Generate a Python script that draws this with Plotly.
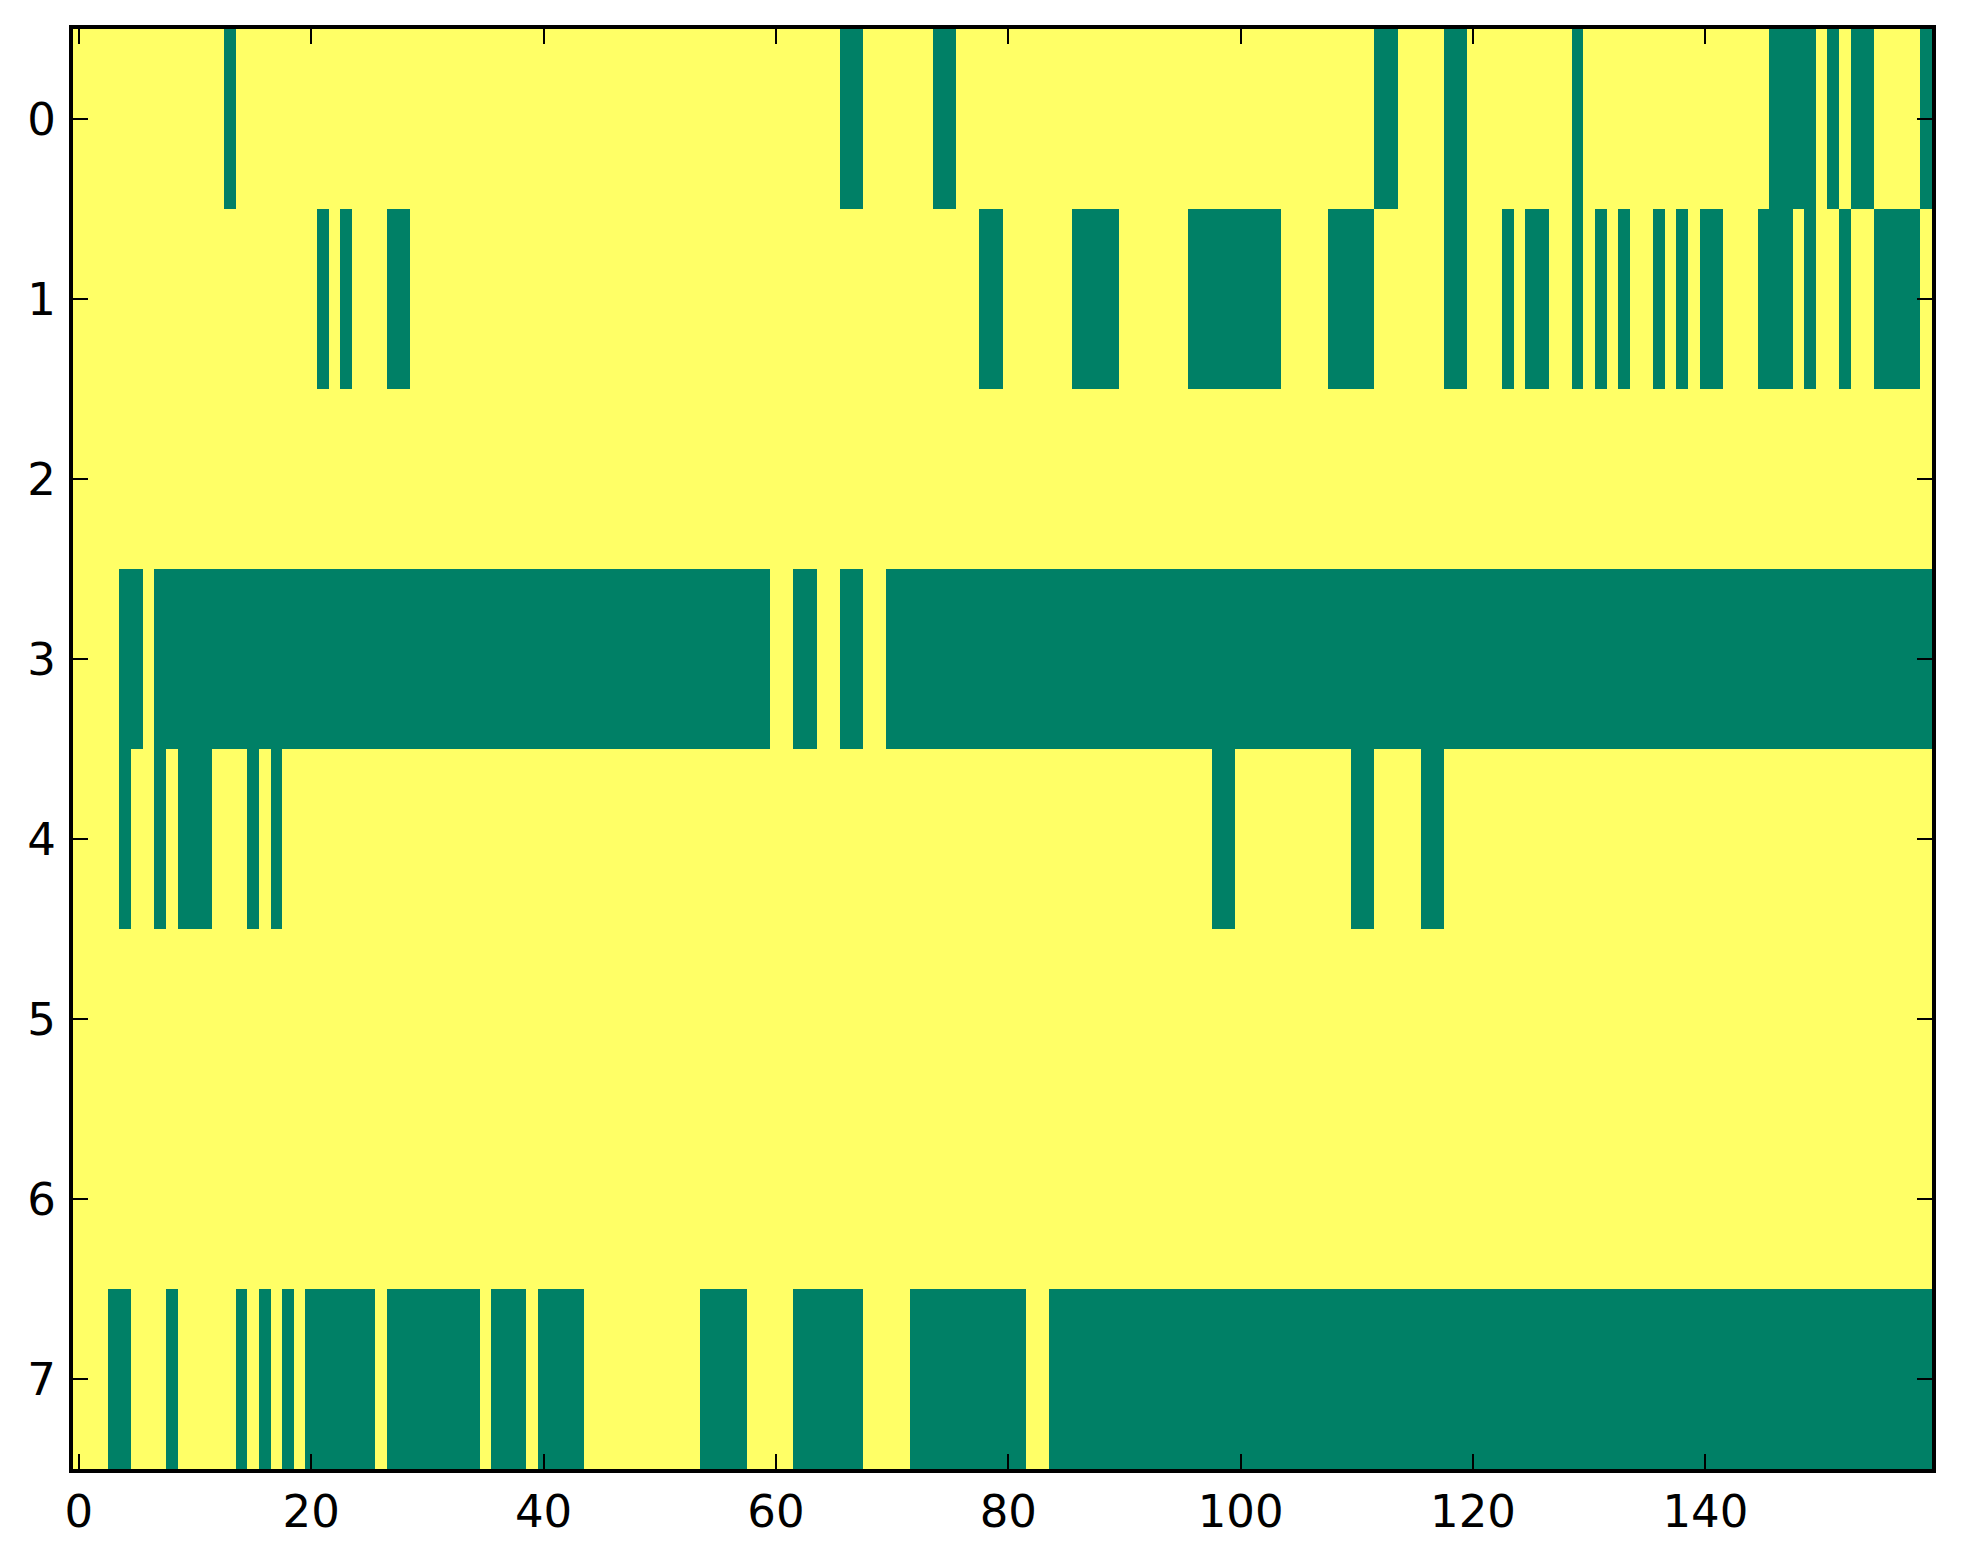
import plotly.graph_objects as go

# ---- data (green = 0, yellow = 1) ----
n_cols = 160
row_labels = [0, 1, 2, 3, 4, 5, 6, 7]
x_tick_vals = [0, 20, 40, 60, 80, 100, 120, 140]

# green runs per row as (first column, last column), inclusive
row0_green = [(13, 13), (66, 67), (74, 75), (112, 113), (118, 119), (129, 129),
              (146, 149), (151, 151), (153, 154), (159, 159)]
row1_green = [(21, 21), (23, 23), (27, 28), (78, 79), (86, 89), (96, 103),
              (108, 111), (118, 119), (123, 123), (125, 126), (129, 129),
              (131, 131), (133, 133), (136, 136), (138, 138), (140, 141),
              (145, 147), (149, 149), (152, 152), (155, 158)]
row2_green = []
row3_green = [(4, 5), (7, 59), (62, 63), (66, 67), (70, 159)]
row4_green = [(4, 4), (7, 7), (9, 11), (15, 15), (17, 17), (98, 99),
              (110, 111), (116, 117)]
row5_green = []
row6_green = []
row7_green = [(3, 4), (8, 8), (14, 14), (16, 16), (18, 18), (20, 25), (27, 34),
              (36, 38), (40, 43), (54, 57), (62, 67), (72, 81), (84, 159)]

rows_green = [row0_green, row1_green, row2_green, row3_green,
              row4_green, row5_green, row6_green, row7_green]

# build the value table (1 = yellow, 0 = green)
z = []
for runs in rows_green:
    row = [1] * n_cols
    for a, b in runs:
        for c in range(a, b + 1):
            row[c] = 0
    z.append(row)

GREEN = "#008066"
YELLOW = "#ffff66"

fig = go.Figure(
    go.Heatmap(
        z=z,
        x=list(range(n_cols)),
        y=row_labels,
        colorscale=[[0, GREEN], [1, YELLOW]],
        zmin=0, zmax=1,
        showscale=False,
        xgap=0, ygap=0,
        hoverinfo="skip",
    )
)

font = dict(family="DejaVu Sans", size=45, color="black")

fig.update_layout(
    width=1963, height=1564,
    margin=dict(l=65, r=39, t=21, b=103, pad=0),
    paper_bgcolor="white",
    plot_bgcolor="white",
    font=font,
    showlegend=False,
)
fig.update_xaxes(
    range=[-0.5, n_cols - 0.5],
    tickmode="array", tickvals=x_tick_vals, ticktext=[str(v) for v in x_tick_vals],
    ticks="inside", ticklen=15, tickwidth=2, tickcolor="black",
    showline=True, linewidth=4, linecolor="black", mirror="ticks",
    showgrid=False, zeroline=False, ticklabelstandoff=0,
    tickfont=font,
)
fig.update_yaxes(
    range=[7.5, -0.5],
    tickmode="array", tickvals=row_labels, ticktext=[str(v) for v in row_labels],
    ticks="inside", ticklen=15, tickwidth=2, tickcolor="black",
    showline=True, linewidth=4, linecolor="black", mirror="ticks",
    showgrid=False, zeroline=False, ticklabelstandoff=4,
    tickfont=font,
)

fig.write_html("out.html")
